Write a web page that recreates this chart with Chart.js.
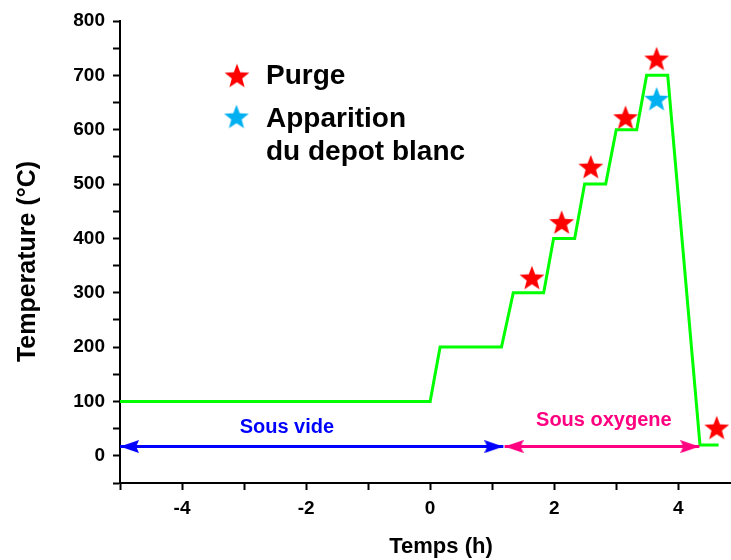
<!DOCTYPE html>
<html>
<head>
<meta charset="utf-8">
<script src="https://cdn.jsdelivr.net/npm/chart.js@4"></script>
<style>
    body { margin: 0; background: #fff; }
    #wrap { width: 731px; height: 560px; }
</style>
</head>
<body>
<div id="wrap"><canvas id="chart" width="731" height="560"></canvas></div>
<script>
// temperature profile (green)
let timeSteps = [-5, 0, 0.16, 1.15, 1.34, 1.83, 1.99, 2.33, 2.49, 2.83, 3.0, 3.33, 3.49, 3.83, 4.35, 4.65];
let tempSteps = [100, 100, 200, 200, 300, 300, 400, 400, 500, 500, 600, 600, 700, 700, 20, 20];

// purge points (red stars)
let purgeTimes = [1.64, 2.12, 2.59, 3.15, 3.65, 4.62];
let purgeTemps = [328, 430, 532, 623, 731, 52];

// white deposit (blue star)
let depotTimes = [3.65];
let depotTemps = [657];

// arrows under the curve
let videTimes = [-5, 1.18];
let oxygeneTimes = [1.2, 4.34];
let arrowTemp = 17;

let regionLabels = ["Sous vide", "Sous oxygene"];
let regionX = [-2.31, 2.80];
let regionY = [52, 65];

let xTicks = [-5, -4, -3, -2, -1, 0, 1, 2, 3, 4];
let yTicks = [-50, 0, 50, 100, 150, 200, 250, 300, 350, 400, 450, 500, 550, 600, 650, 700, 750, 800];

let fontFamily = "'Liberation Sans', Arial, sans-serif";
let blue = "#0000ff";
let pink = "#ff0080";
let green = "#00ff00";

function toPoints(xs, ys) {
    let pts = [];
    for (let i = 0; i < xs.length; i++) {
        pts.push({x: xs[i], y: Array.isArray(ys) ? ys[i] : ys});
    }
    return pts;
}

function makeStar(color, R) {
    let c = document.createElement("canvas");
    c.width = Math.ceil(R * 2) + 2;
    c.height = Math.ceil(R * 2) + 2;
    let ctx = c.getContext("2d");
    let cx = c.width / 2;
    let cy = c.height / 2 + 0.095 * R;
    ctx.beginPath();
    for (let i = 0; i < 10; i++) {
        let r = i % 2 === 0 ? R : R * 0.42;
        let a = -Math.PI / 2 + i * Math.PI / 5;
        ctx.lineTo(cx + r * Math.cos(a), cy + r * Math.sin(a));
    }
    ctx.closePath();
    ctx.fillStyle = color;
    ctx.fill();
    return c;
}

// arrow head pointing right, tip at the middle of the canvas
function makeHead(color, len, h) {
    let c = document.createElement("canvas");
    c.width = len * 2;
    c.height = h;
    let ctx = c.getContext("2d");
    ctx.beginPath();
    ctx.moveTo(0, 0);
    ctx.lineTo(len, h / 2);
    ctx.lineTo(0, h);
    ctx.lineTo(len * 0.15, h / 2);
    ctx.closePath();
    ctx.fillStyle = color;
    ctx.fill();
    return c;
}

let redStar = makeStar("#ff0000", 13);
let blueStar = makeStar("#00b0f0", 13);
let blueHead = makeHead(blue, 19, 13);
let pinkHead = makeHead(pink, 19, 13);

let textPlugin = {
    id: "texts",
    afterDatasetsDraw(chart) {
        let ctx = chart.ctx;
        let xs = chart.scales.x;
        let ys = chart.scales.y;
        ctx.save();

        ctx.textAlign = "center";
        ctx.textBaseline = "middle";
        ctx.font = "bold 20px " + fontFamily;
        let colors = [blue, pink];
        for (let i = 0; i < regionLabels.length; i++) {
            ctx.fillStyle = colors[i];
            ctx.fillText(regionLabels[i], xs.getPixelForValue(regionX[i]), ys.getPixelForValue(regionY[i]));
        }

        // legend
        ctx.drawImage(redStar, 237 - redStar.width / 2, 75.5 - redStar.height / 2);
        ctx.drawImage(blueStar, 236.5 - blueStar.width / 2, 116.5 - blueStar.height / 2);
        ctx.fillStyle = "#000";
        ctx.textAlign = "left";
        ctx.textBaseline = "alphabetic";
        ctx.font = "bold 28px " + fontFamily;
        ctx.fillText("Purge", 266, 84);
        ctx.fillText("Apparition", 266, 127);
        ctx.fillText("du depot blanc", 266, 160);

        // axis titles
        ctx.textAlign = "center";
        ctx.textBaseline = "middle";
        ctx.font = "bold 22px " + fontFamily;
        ctx.fillText("Temps (h)", 441, 547);
        ctx.translate(28.5, 261.5);
        ctx.rotate(-Math.PI / 2);
        ctx.font = "bold 25px " + fontFamily;
        ctx.fillText("Temperature (°C)", 0, 0);
        ctx.restore();
    }
};

let tickFont = {family: fontFamily, size: 19, weight: "bold"};

let chart = new Chart(document.getElementById("chart"), {
    type: "line",
    data: {
        datasets: [
            {
                data: toPoints(purgeTimes, purgeTemps),
                showLine: false,
                pointStyle: redStar,
                pointRadius: 2
            },
            {
                data: toPoints(depotTimes, depotTemps),
                showLine: false,
                pointStyle: blueStar,
                pointRadius: 2
            },
            {
                data: toPoints(videTimes, arrowTemp),
                borderColor: blue,
                borderWidth: 3,
                pointStyle: blueHead,
                pointRotation: (c) => c.dataIndex === 0 ? 180 : 0,
                pointRadius: 2
            },
            {
                data: toPoints(oxygeneTimes, arrowTemp),
                borderColor: pink,
                borderWidth: 3,
                pointStyle: pinkHead,
                pointRotation: (c) => c.dataIndex === 0 ? 180 : 0,
                pointRadius: 2
            },
            {
                data: toPoints(timeSteps, tempSteps),
                borderColor: green,
                borderWidth: 3,
                pointRadius: 0,
                tension: 0
            }
        ]
    },
    options: {
        responsive: false,
        animation: false,
        devicePixelRatio: 1,
        layout: {autoPadding: false, padding: {top: 21, left: 0, right: 0, bottom: 0}},
        plugins: {
            legend: {display: false},
            tooltip: {enabled: false}
        },
        scales: {
            x: {
                type: "linear",
                min: -5,
                max: 4.85,
                afterBuildTicks: (scale) => {
                    scale.ticks = xTicks.map(v => ({value: v}));
                },
                afterFit: (scale) => {
                    scale.height = 77;
                    scale.paddingLeft = 0;
                    scale.paddingRight = 0;
                },
                ticks: {
                    font: tickFont,
                    color: "#000",
                    padding: 7,
                    maxRotation: 0,
                    callback: (v) => v % 2 === 0 ? String(v) : ""
                },
                grid: {
                    drawOnChartArea: false,
                    drawTicks: true,
                    tickLength: 7,
                    tickWidth: 2,
                    tickColor: "#000"
                },
                border: {color: "#000", width: 2}
            },
            y: {
                type: "linear",
                min: -50,
                max: 800,
                afterBuildTicks: (scale) => {
                    scale.ticks = yTicks.map(v => ({value: v}));
                },
                afterFit: (scale) => {
                    scale.width = 120;
                },
                ticks: {
                    font: tickFont,
                    color: "#000",
                    padding: 8,
                    callback: (v) => v % 100 === 0 ? String(v) : ""
                },
                grid: {
                    drawOnChartArea: false,
                    drawTicks: true,
                    tickLength: 7,
                    tickWidth: 2,
                    tickColor: "#000"
                },
                border: {color: "#000", width: 2}
            }
        }
    },
    plugins: [textPlugin]
});
</script>
</body>
</html>
